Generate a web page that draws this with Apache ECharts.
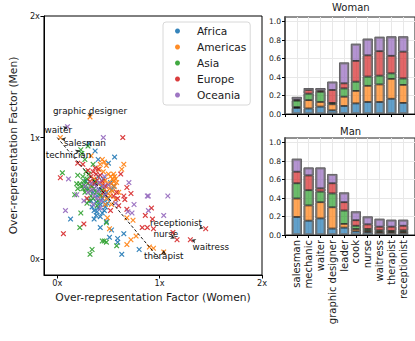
<!DOCTYPE html>
<html>
<head>
<meta charset="utf-8">
<script src="https://cdn.jsdelivr.net/npm/echarts@6/dist/echarts.min.js"></script>
<style>
  html, body { margin: 0; padding: 0; background: #fff; }
  #chart { width: 415px; height: 341px; }
</style>
</head>
<body>
<div id="chart"></div>
<script>
// scatter: over-representation factor (women, men) per country, by region
const regions = ["Africa", "Americas", "Asia", "Europe", "Oceania"];
const regionColors = ["#1f77b4", "#ff7f0e", "#2ca02c", "#d62728", "#9467bd"];

const africa = [
  [0.31,0.95],[0.37,0.89],[0.56,0.84],[0.50,0.79],[0.40,0.82],[0.55,0.60],[0.13,0.33],[0.42,0.26],
  [0.48,0.31],[0.51,0.18],[0.53,0.24],[0.59,0.17],[0.59,0.14],[0.63,0.04],[0.65,0.21],[0.80,0.08],
  [0.36,0.40],[0.38,0.36],[0.40,0.42],[0.42,0.45],[0.44,0.50],[0.45,0.47],[0.46,0.52],[0.38,0.47],
  [0.35,0.55],[0.41,0.57],[0.48,0.55],[0.50,0.50],[0.44,0.38],[0.39,0.52],[0.33,0.48],[0.47,0.43],
  [0.43,0.60],[0.37,0.62],[0.52,0.63],[0.30,0.58],[0.40,0.68],[0.28,0.64],[0.45,0.66],[0.53,0.57],
  [0.34,0.43],[0.36,0.33],[0.49,0.46],[0.42,0.35],[0.39,0.39],[0.46,0.40]
];
const americas = [
  [0.32,1.17],[0.03,1.00],[0.33,0.85],[0.44,0.82],[0.65,0.78],[0.63,0.74],[0.49,0.34],[0.51,0.25],
  [0.68,0.34],[0.74,0.32],[0.72,0.16],[0.68,0.12],[0.77,0.19],[0.90,0.10],[0.94,0.09],[1.04,0.06],
  [0.46,0.80],[0.48,0.77],[0.42,0.78],[0.50,0.70],[0.52,0.68],[0.54,0.66],[0.55,0.64],[0.53,0.62],
  [0.56,0.60],[0.51,0.58],[0.49,0.62],[0.47,0.65],[0.54,0.56],[0.57,0.66],[0.50,0.54],[0.46,0.58],
  [0.52,0.52],[0.48,0.50],[0.44,0.62],[0.55,0.70],[0.58,0.63],[0.45,0.72],[0.40,0.62],[0.36,0.66],
  [0.47,0.45],[0.57,0.49],[0.43,0.52],[0.33,0.60],[0.60,0.55],[0.41,0.74],[0.53,0.45],[0.56,0.68]
];
const asia = [
  [0.30,0.93],[0.24,0.87],[0.23,0.90],[0.05,0.71],[0.20,0.69],[0.17,0.53],[0.23,0.38],[0.22,0.26],
  [0.48,0.30],[0.44,0.15],[0.46,0.15],[0.48,0.14],[0.58,0.11],[0.32,0.04],[0.34,0.08],[0.27,0.82],
  [0.35,0.78],[0.22,0.62],[0.24,0.60],[0.26,0.64],[0.28,0.58],[0.30,0.62],[0.27,0.55],[0.32,0.56],
  [0.29,0.66],[0.25,0.68],[0.31,0.70],[0.34,0.60],[0.33,0.52],[0.36,0.58],[0.38,0.55],[0.35,0.50],
  [0.31,0.48],[0.20,0.58],[0.42,0.53],[0.40,0.48],[0.37,0.64],[0.28,0.72],[0.19,0.62],[0.44,0.57],
  [0.29,0.46],[0.25,0.58],[0.39,0.44],[0.26,0.61]
];
const europe = [
  [0.64,1.00],[0.20,0.79],[0.03,0.67],[0.62,0.70],[0.68,0.59],[0.72,0.54],[0.65,0.52],[0.66,0.49],
  [0.59,0.50],[0.68,0.41],[0.26,0.29],[0.06,0.21],[0.86,0.36],[0.92,0.42],[0.93,0.33],[0.88,0.26],
  [0.83,0.26],[0.94,0.25],[1.13,0.22],[1.17,0.16],[1.30,0.16],[1.45,0.25],[0.35,0.72],[0.38,0.70],
  [0.40,0.74],[0.42,0.69],[0.37,0.75],[0.33,0.68],[0.30,0.73],[0.39,0.65],[0.44,0.64],[0.36,0.62],
  [0.45,0.55],[0.55,0.52],[0.58,0.55],[0.32,0.64],[0.47,0.60],[0.25,0.78],[0.60,0.44],[0.52,0.40],
  [0.29,0.50]
];
const oceania = [
  [0.10,1.09],[0.45,1.00],[0.11,0.66],[0.19,0.53],[0.70,0.63],[0.57,0.46],[0.75,0.45],[0.73,0.38],
  [0.08,0.40],[0.88,0.52],[0.89,0.52],[1.08,0.52],[0.89,0.40],[1.04,0.36],[0.69,0.39],[0.34,0.57],
  [0.38,0.60],[0.41,0.63],[0.45,0.60],[0.36,0.52],[0.40,0.56],[0.43,0.48],[0.47,0.53],[0.30,0.55],
  [0.33,0.62],[0.39,0.50],[0.46,0.68],[0.50,0.61],[0.27,0.60],[0.42,0.42],[0.35,0.45],[0.26,0.48]
];
const regionPoints = [africa, americas, asia, europe, oceania];

const guideLine = [[0, 1], [1, 0]];
const scatterTicks = [0, 1, 2];

// annotated occupations: text position and the point it refers to
const annoNames = ["graphic designer", "waiter", "salesman", "technician", "receptionist", "nurse", "waitress", "therapist"];
const annoText = [[0.32,1.22],[0.01,1.06],[0.27,0.955],[0.11,0.86],[1.16,0.30],[1.06,0.205],[1.50,0.104],[1.04,0.027]];
const annoPoint = [[0.32,1.17],[0.10,1.09],[0.04,0.99],[0.22,0.895],[1.43,0.255],[1.15,0.17],[1.31,0.16],[1.04,0.075]];

// stacked bars: share per region, by occupation
const jobs = ["salesman", "mechanic", "waiter", "graphic designer", "leader", "cook", "nurse", "waitress", "therapist", "receptionist"];
const womanAfrica   = [0.065, 0.06, 0.08, 0.04, 0.087, 0.115, 0.13, 0.13, 0.165, 0.12];
const womanAmericas = [0.01, 0.09, 0.05, 0.065, 0.10, 0.135, 0.175, 0.19, 0.215, 0.195];
const womanAsia     = [0.07, 0.07, 0.11, 0.015, 0.09, 0.10, 0.10, 0.095, 0.06, 0.07];
const womanEurope   = [0.01, 0.04, 0.015, 0.14, 0.055, 0.225, 0.23, 0.265, 0.19, 0.29];
const womanOceania  = [0.03, 0.02, 0.025, 0.09, 0.225, 0.185, 0.18, 0.155, 0.21, 0.165];
const manAfrica   = [0.195, 0.155, 0.18, 0.07, 0.08, 0.04, 0.03, 0.02, 0.015, 0.02];
const manAmericas = [0.20, 0.165, 0.175, 0.23, 0.04, 0.025, 0.015, 0.015, 0.015, 0.015];
const manAsia     = [0.165, 0.165, 0.115, 0.15, 0.145, 0.035, 0.02, 0.015, 0.015, 0.015];
const manEurope   = [0.125, 0.16, 0.035, 0.11, 0.09, 0.06, 0.05, 0.04, 0.045, 0.05];
const manOceania  = [0.14, 0.085, 0.225, 0.10, 0.105, 0.095, 0.085, 0.085, 0.075, 0.065];
const barTicks = [0, 0.2, 0.4, 0.6, 0.8, 1.0];

const FONT = "DejaVu Sans";
const TXT = "#1a1a1a";
const barFill = ["rgba(31,119,180,0.7)", "rgba(255,127,14,0.7)", "rgba(44,160,44,0.7)", "rgba(214,39,40,0.7)", "rgba(148,103,189,0.7)"];
const xMark = "path://M0,1.5L1.5,0L5,3.5L8.5,0L10,1.5L6.5,5L10,8.5L8.5,10L5,6.5L1.5,10L0,8.5L3.5,5Z";

// pad the category axis with an empty slot on each side (like the matplotlib margins)
const barCats = [""].concat(jobs, [""]);
const pad = (arr) => [null].concat(arr, [null]);

const chart = echarts.init(document.getElementById("chart"), null, { renderer: "svg" });

function scatterAxis(name, gap) {
  return {
    type: "value", min: -0.13, max: 2,
    name: name, nameLocation: "middle", nameGap: gap,
    nameTextStyle: { fontFamily: FONT, fontSize: 10.7, color: TXT },
    axisLine: { show: true, onZero: false, lineStyle: { color: "#000", width: 1 } },
    axisTick: { show: true, length: 3.5, customValues: scatterTicks, lineStyle: { color: "#000" } },
    axisLabel: { customValues: scatterTicks, formatter: (v) => v + "x", fontFamily: FONT, fontSize: 8.2, color: TXT, margin: 4 },
    splitLine: { show: false }
  };
}

function barXAxis(gridIndex, showLabels) {
  return {
    type: "category", gridIndex: gridIndex, data: barCats, boundaryGap: false,
    axisLine: { onZero: false, lineStyle: { color: "#000", width: 1 } },
    axisTick: { show: true, length: 3, interval: 0, lineStyle: { color: "#000" } },
    axisLabel: { show: showLabels, rotate: 90, interval: 0, fontFamily: FONT, fontSize: 10, color: TXT, margin: 5 },
    splitLine: { show: true, interval: 0, lineStyle: { color: "#e8e8e8", width: 1 } }
  };
}

function barYAxis(gridIndex) {
  return {
    type: "value", gridIndex: gridIndex, min: 0, max: 1.05, interval: 0.2,
    axisLine: { show: true, onZero: false, lineStyle: { color: "#555", width: 2 } },
    axisTick: { show: true, length: 3, customValues: barTicks, lineStyle: { color: "#000" } },
    axisLabel: { customValues: barTicks, formatter: (v) => v.toFixed(1), fontFamily: FONT, fontSize: 7.6, color: TXT, margin: 4 },
    splitLine: { show: true, lineStyle: { color: "#e8e8e8", width: 1 } }
  };
}

function stackSeries(prefix, gridIdx, arrays) {
  const out = arrays.map((arr, i) => ({
    name: prefix + regions[i], type: "bar", stack: prefix, xAxisIndex: gridIdx, yAxisIndex: gridIdx,
    data: pad(arr), barWidth: 10, silent: true,
    itemStyle: { color: barFill[i], borderColor: "rgba(0,0,0,0.85)", borderWidth: 0.8 }
  }));
  const totals = jobs.map((_, j) => arrays.reduce((s, a) => s + a[j], 0));
  out.push({
    name: prefix + "total", type: "bar", xAxisIndex: gridIdx, yAxisIndex: gridIdx,
    data: pad(totals), barWidth: 10, barGap: "-100%", silent: true, z: 3,
    itemStyle: { color: "rgba(0,0,0,0)", borderColor: "rgba(115,115,115,0.75)", borderWidth: 2 }
  });
  return out;
}

// arrowheads point from the text towards the annotated point (pixel scales ~102.5 / 121.5 per unit)
const arrowData = annoPoint.map((p, i) => {
  const dx = (p[0] - annoText[i][0]) * 102.5;
  const dy = -(p[1] - annoText[i][1]) * 121.5;
  return { value: p, symbolRotate: Math.atan2(-dx, -dy) * 180 / Math.PI };
});

const series = regionPoints.map((pts, i) => ({
  name: regions[i], type: "scatter", data: pts,
  symbol: xMark, symbolSize: 5.5,
  itemStyle: { color: regionColors[i], opacity: 0.9 },
  z: 2
}));
series.push({
  name: "guide", type: "line", data: guideLine, symbol: "none", silent: true, z: 3,
  lineStyle: { color: "#000", width: 0.9, type: [3, 2] }
});
series.push({
  name: "arrows", type: "scatter", data: arrowData, symbol: "arrow", symbolSize: [3.5, 4.5],
  itemStyle: { color: "#000" }, z: 4, silent: true
});
series.push({
  name: "annotations", type: "scatter", silent: true, z: 5,
  data: annoText.map((p, i) => ({ name: annoNames[i], value: p })),
  symbolSize: 1, itemStyle: { color: "#fff", opacity: 1 },
  label: { show: true, position: "inside", formatter: "{b}", fontFamily: FONT, fontSize: 8.8, color: "#111", opacity: 1 }
});
series.push(...stackSeries("w-", 1, [womanAfrica, womanAmericas, womanAsia, womanEurope, womanOceania]));
series.push(...stackSeries("m-", 2, [manAfrica, manAmericas, manAsia, manEurope, manOceania]));

const titleStyle = { fontFamily: FONT, fontSize: 10, fontWeight: "normal", color: TXT };

chart.setOption({
  animation: false,
  backgroundColor: "#fff",
  textStyle: { fontFamily: FONT },
  title: [
    { text: "Woman", left: 332, top: 2, padding: 0, textStyle: titleStyle },
    { text: "Man", left: 340, top: 126, padding: 0, textStyle: titleStyle }
  ],
  legend: {
    data: regions, orient: "vertical", left: 163, top: 22,
    icon: "circle", itemWidth: 5, itemHeight: 5, itemGap: 4,
    padding: [3, 4, 4, 12],
    backgroundColor: "rgba(255,255,255,0.85)", borderColor: "#d8d8d8", borderWidth: 1, borderRadius: 3,
    textStyle: { fontFamily: FONT, fontSize: 10.6, color: TXT, lineHeight: 12, padding: [0, 0, 0, 12] },
    selectedMode: false
  },
  grid: [
    { left: 43, top: 16, width: 219, height: 259, show: true, borderColor: "#000", borderWidth: 1, backgroundColor: "rgba(0,0,0,0)" },
    { left: 285, top: 17, width: 136, height: 97, show: true, borderColor: "#222", borderWidth: 1 },
    { left: 285, top: 138, width: 136, height: 97, show: true, borderColor: "#222", borderWidth: 1 }
  ],
  xAxis: [
    Object.assign(scatterAxis("Over-representation Factor (Women)", 16), { gridIndex: 0 }),
    barXAxis(1, false),
    barXAxis(2, true)
  ],
  yAxis: [
    Object.assign(scatterAxis("Over-representation Factor (Men)", 17), { gridIndex: 0 }),
    barYAxis(1),
    barYAxis(2)
  ],
  series: series
});
</script>
</body>
</html>
